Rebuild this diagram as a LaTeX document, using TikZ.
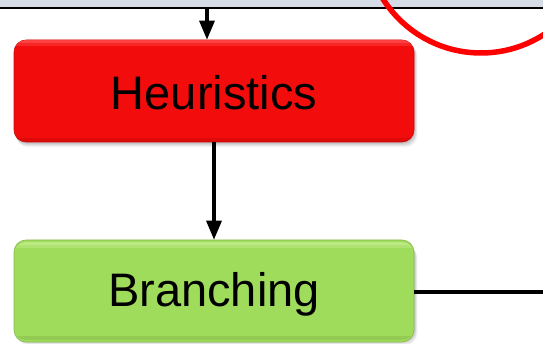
\documentclass[tikz,border=0pt]{standalone}
\usepackage{fontspec}
\setmainfont{Liberation Sans}
\usetikzlibrary{arrows.meta,calc}
\definecolor{bandgray}{HTML}{D6DCE5}
\definecolor{boxred}{HTML}{F20C0C}
\definecolor{boxredlight}{HTML}{FF4A4A}
\definecolor{boxgreen}{HTML}{A0DC5C}
\definecolor{boxgreenlight}{HTML}{C2EC8C}
\definecolor{ringred}{HTML}{FF0000}
\tikzset{
  stepbox/.style={rounded corners=12pt, minimum width=400pt, minimum height=102pt,
    inner sep=0pt, font=\fontsize{47}{56}\selectfont, text=black},
  flow/.style={line width=3.2pt, draw=black,
    -{Triangle[length=19pt,width=15pt]}},
  plainline/.style={line width=3.2pt, draw=black},
}
% soft drop shadow below and right of a rounded box
\newcommand{\softshadow}[4]{%
  \foreach \k/\o in {1/0.05,2/0.05,3/0.05,4/0.05,5/0.04,6/0.03}{%
    \fill[black, opacity=\o, rounded corners=12pt]
      ($(#1,#2)+(\k*0.4,\k*0.7)$) rectangle ($(#3,#4)+(\k*0.6,\k*0.9)$);
  }%
}
% glossy upper rim inside a rounded box
\newcommand{\gloss}[5]{%
  \begin{scope}
    \clip[rounded corners=12pt] (#1,#2) rectangle (#3,#4);
    \fill[#5, opacity=0.85] (#1,#2) rectangle (#3,#2+3);
    \fill[#5, opacity=0.45] (#1,#2+3) rectangle (#3,#2+6);
    \fill[black, opacity=0.08] (#1,#4-4) rectangle (#3,#4);
  \end{scope}%
}
\begin{document}
\begin{tikzpicture}[x=1pt, y=-1pt]
  \useasboundingbox (0,0) rectangle (543,344);
  \fill[white] (0,0) rectangle (543,344);

  % header band and its rule
  \fill[bandgray] (0,0) rectangle (543,7.5);
  \draw[line width=2.6pt] (0,8) -- (543,8);
  \coordinate (topfeed) at (207,8);

  % shadows
  \softshadow{14}{40}{414}{142}
  \softshadow{14}{242}{414}{340}

  % boxes
  \node[stepbox, fill=boxred, draw=boxred!85!black, line width=0.6pt] (heur) at (214,91) {};
  \gloss{14}{40}{414}{142}{boxredlight}
  \node[stepbox] at (214,92.5) {Heuristics};

  \node[stepbox, fill=boxgreen, draw=boxgreen!85!black, line width=0.6pt] (branch) at (214,291) {};
  \gloss{14}{242}{414}{340}{boxgreenlight}
  \node[stepbox] at (214,294) {Branching};

  % connectors
  \draw[flow] (topfeed) -- (heur.north -| topfeed);
  \draw[flow] (heur.south) -- (branch.north);
  \coordinate (rightout) at (543,292);
  \draw[plainline] (branch.east |- rightout) -- (rightout);

  % red ring passing through the corner
  \draw[ringred, line width=5.5pt] (481,-63) circle[radius=116];
\end{tikzpicture}
\end{document}
